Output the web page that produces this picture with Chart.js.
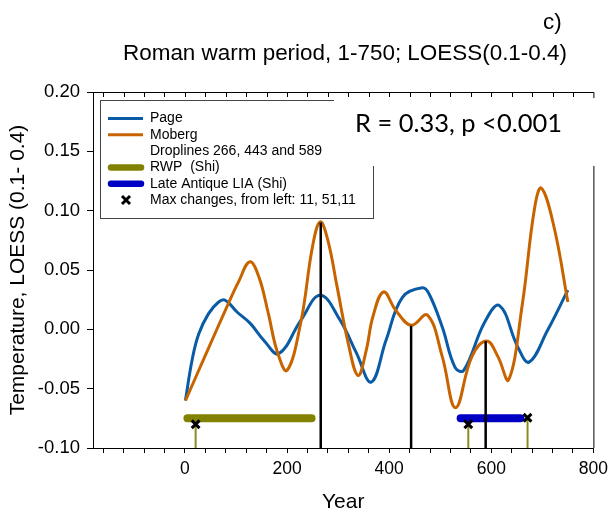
<!DOCTYPE html>
<html><head><meta charset="utf-8">
<script src="https://cdn.jsdelivr.net/npm/chart.js@4/dist/chart.umd.min.js"></script>
<style>html,body{margin:0;padding:0;background:#fff}#wrap{width:614px;height:518px}</style>
</head><body><div id="wrap"><canvas id="c" width="614" height="518"></canvas></div>
<script>
// ---- data ----
const pageYears  = [1, 14, 27, 46, 66, 79, 102, 128, 156, 184, 227, 265, 304, 336, 365, 394, 426, 465, 478, 504, 529, 546, 587, 616, 652, 674, 710, 750];
const pageValues = [-0.060, -0.026, -0.004, 0.013, 0.023, 0.0245, 0.0146, 0.005, -0.010, -0.0205, 0.0076, 0.0287, 0.0076, -0.020, -0.0445, -0.009, 0.027, 0.035, 0.030, 0.002, -0.032, -0.0346, 0.006, 0.020, -0.015, -0.0276, -0.001, 0.033];
const mobergYears  = [1, 40, 85, 105, 127, 145, 163, 181, 200, 227, 250, 265, 280, 298, 320, 339, 355, 368, 389, 413, 443, 475, 504, 530, 562, 591, 613, 634, 661, 684, 698, 723, 750];
const mobergValues = [-0.060, -0.022, 0.0217, 0.040, 0.0569, 0.044, 0.014, -0.019, -0.0346, 0.006, 0.070, 0.0906, 0.075, 0.036, -0.012, -0.0389, -0.018, 0.0104, 0.0315, 0.016, 0.0034, 0.012, -0.023, -0.066, -0.023, -0.0099, -0.023, -0.0425, 0.0217, 0.100, 0.119, 0.086, 0.023];
const dropYears = [266, 443, 589];
const dropTops  = [0.090, 0.003, -0.010];
const rwpSpan = [5, 248];
const liaSpan = [540, 657];
const periodLevel = -0.075;
const maxYears  = [21, 555, 671];
const maxValues = [-0.080, -0.080, -0.0745];
const yTickStep = 0.05;
const xTickStep = 40;
const xLabelYears = [0, 200, 400, 600, 800];
const seriesLabels = ['Page', 'Moberg', 'Droplines 266, 443 and 589', 'RWP  (Shi)', 'Late Antique LIA (Shi)', 'Max changes, from left: 11, 51,11'];
const titleText = 'Roman warm period, 1-750; LOESS(0.1-0.4)';
const panelText = 'c)';
const statText = 'R = 0.33, p <0.001';
const yTitleText = 'Temperature, LOESS (0.1- 0.4)';
const xTitleText = 'Year';

// ---- build datasets ----
const pts = (xs, ys) => xs.map((x, i) => ({x, y: ys[i]}));
const yMin = -0.10, yMax = 0.20;
const dropData = [];
dropYears.forEach((x, i) => { dropData.push({x, y: dropTops[i]}, {x, y: yMin}, {x, y: null}); });
const stemData = [];
maxYears.forEach((x, i) => { stemData.push({x, y: maxValues[i]}, {x, y: yMin}, {x, y: null}); });

const COL_PAGE = '#0a5ba6', COL_MOB = '#c86400', COL_RWP = '#828200', COL_LIA = '#0000c4', COL_STEM = '#8c8c1e';
const SANS = '"Liberation Sans", Arial, sans-serif';

const datasets = [
  {label: seriesLabels[5], data: pts(maxYears, maxValues), showLine: false, pointStyle: 'crossRot', pointRadius: 5.5, pointBorderWidth: 3, borderColor: '#000', backgroundColor: '#000', legendRank: 5, legendKind: 'x'},
  {label: seriesLabels[2], data: dropData, borderColor: '#000', borderWidth: 2.5, pointRadius: 0, spanGaps: false, tension: 0, legendRank: 2, legendKind: 'none'},
  {label: '', data: stemData, borderColor: COL_STEM, borderWidth: 2, pointRadius: 0, spanGaps: false, tension: 0, legendRank: -1},
  {label: seriesLabels[3], data: pts(rwpSpan, [periodLevel, periodLevel]), borderColor: COL_RWP, borderWidth: 8, borderCapStyle: 'round', pointRadius: 0, legendRank: 3, legendKind: 'bar'},
  {label: seriesLabels[4], data: pts(liaSpan, [periodLevel, periodLevel]), borderColor: COL_LIA, borderWidth: 8, borderCapStyle: 'round', pointRadius: 0, legendRank: 4, legendKind: 'bar'},
  {label: seriesLabels[1], data: pts(mobergYears, mobergValues), borderColor: COL_MOB, borderWidth: 3, pointRadius: 0, tension: 0.4, legendRank: 1, legendKind: 'line'},
  {label: seriesLabels[0], data: pts(pageYears, pageValues), borderColor: COL_PAGE, borderWidth: 3, pointRadius: 0, tension: 0.4, legendRank: 0, legendKind: 'line'}
];

// ---- decorations: frame, inner top ticks, legend, stat text, title ----
const deco = {
  id: 'deco',
  afterDraw(chart) {
    const ctx = chart.ctx, a = chart.chartArea, xs = chart.scales.x;
    ctx.save();
    ctx.strokeStyle = '#000'; ctx.lineWidth = 1;
    ctx.beginPath();
    ctx.moveTo(a.left, a.top + 0.5); ctx.lineTo(a.right + 0.5, a.top + 0.5); ctx.lineTo(a.right + 0.5, a.bottom);
    ctx.stroke();
    ctx.beginPath();
    xs.ticks.forEach(t => {
      const px = Math.round(xs.getPixelForValue(t.value)) + 0.5;
      if (px > a.left + 2 && px < a.right - 1) { ctx.moveTo(px, a.top); ctx.lineTo(px, a.top + 5); }
    });
    ctx.stroke();

    // legend box
    const bx = 100.5, by = 100.5, bw = 273, bh = 118;
    ctx.fillStyle = '#fff'; ctx.fillRect(bx, by, bw, bh);
    ctx.strokeStyle = '#444'; ctx.lineWidth = 1; ctx.strokeRect(bx, by, bw, bh);
    const items = chart.data.datasets.filter(d => d.legendRank >= 0).sort((p, q) => p.legendRank - q.legendRank);
    ctx.font = '14px ' + SANS; ctx.textBaseline = 'middle'; ctx.textAlign = 'left';
    items.forEach((d, i) => {
      const cy = 118.5 + i * 16.3;
      if (d.legendKind === 'line' || d.legendKind === 'bar') {
        ctx.strokeStyle = d.borderColor;
        ctx.lineWidth = d.legendKind === 'bar' ? 6.5 : 3;
        ctx.lineCap = d.legendKind === 'bar' ? 'round' : 'butt';
        ctx.beginPath();
        if (d.legendKind === 'bar') { ctx.moveTo(111, cy); ctx.lineTo(141, cy); }
        else { ctx.moveTo(108, cy); ctx.lineTo(143, cy); }
        ctx.stroke();
      } else if (d.legendKind === 'x') {
        ctx.strokeStyle = '#000'; ctx.lineWidth = 3; ctx.lineCap = 'butt';
        ctx.beginPath();
        ctx.moveTo(122, cy - 4); ctx.lineTo(130, cy + 4);
        ctx.moveTo(130, cy - 4); ctx.lineTo(122, cy + 4);
        ctx.stroke();
      }
      ctx.fillStyle = '#000';
      ctx.fillText(d.label, 150, cy);
    });

    // statistic text with white backing
    ctx.fillStyle = '#fff'; ctx.fillRect(334, 98, 262, 68);
    ctx.font = '100px Lato, "Open Sans", sans-serif';
    const w100 = ctx.measureText(statText).width;
    const fs = 100 * 207 / w100;
    ctx.font = fs.toFixed(2) + 'px Lato, "Open Sans", sans-serif';
    ctx.fillStyle = '#000'; ctx.textBaseline = 'alphabetic'; ctx.textAlign = 'left';
    ctx.fillText(statText, 355, 131.5);

    // title and panel label
    ctx.font = '100px ' + SANS;
    const tw = ctx.measureText(titleText).width;
    const tfs = 100 * 444 / tw;
    ctx.font = tfs.toFixed(2) + 'px ' + SANS;
    ctx.textAlign = 'center';
    ctx.fillText(titleText, 345, 60);
    ctx.textAlign = 'left';
    ctx.fillText(panelText, 543, 29);
    ctx.restore();
  }
};

new Chart(document.getElementById('c'), {
  type: 'line',
  data: {datasets},
  options: {
    responsive: false,
    animation: false,
    devicePixelRatio: 1,
    layout: {padding: {top: 92, right: 14, bottom: 0, left: 0}},
    plugins: {legend: {display: false}, tooltip: {enabled: false}, title: {display: false}},
    scales: {
      x: {
        type: 'linear', min: -180, max: 800,
        afterFit(s) { s.height = 70; },
        ticks: {
          stepSize: xTickStep, includeBounds: false, autoSkip: false, maxRotation: 0,
          color: '#000', font: {family: SANS, size: 17.5}, padding: 6,
          callback: v => xLabelYears.includes(v) ? String(v) : ''
        },
        grid: {display: true, drawOnChartArea: false, drawTicks: true, tickLength: 5, color: '#000', tickColor: '#000'},
        border: {display: true, color: '#000', width: 1},
        title: {display: true, text: xTitleText, color: '#000', font: {family: SANS, size: 21}, padding: {top: 0, bottom: 3}}
      },
      y: {
        type: 'linear', min: yMin, max: yMax,
        afterFit(s) { s.width = 93; },
        ticks: {
          stepSize: yTickStep, color: '#000', font: {family: SANS, size: 18.5}, padding: 7,
          callback: v => (Math.abs(v) < 1e-9 ? 0 : v).toFixed(2)
        },
        grid: {display: true, drawOnChartArea: false, drawTicks: true, tickLength: 6, color: '#000', tickColor: '#000'},
        border: {display: true, color: '#000', width: 1},
        title: {display: true, text: yTitleText, color: '#000', font: {family: SANS, size: 21}, padding: {top: 6, bottom: 0}}
      }
    }
  },
  plugins: [deco]
});
</script>
</body></html>
